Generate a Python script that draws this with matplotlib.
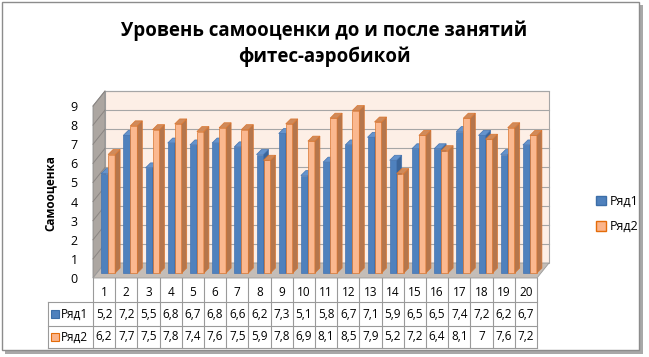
import matplotlib.pyplot as plt
from matplotlib.patches import Polygon, Rectangle, Patch

plt.rcParams['font.family'] = ['Open Sans', 'DejaVu Sans']

groups = list(range(1, 21))
series_names = ['Ряд1', 'Ряд2']
row1 = [5.2, 7.2, 5.5, 6.8, 6.7, 6.8, 6.6, 6.2, 7.3, 5.1, 5.8, 6.7, 7.1, 5.9, 6.5, 6.5, 7.4, 7.2, 6.2, 6.7]
row2 = [6.2, 7.7, 7.5, 7.8, 7.4, 7.6, 7.5, 5.9, 7.8, 6.9, 8.1, 8.5, 7.9, 5.2, 7.2, 6.4, 8.1, 7.0, 7.6, 7.2]
y_ticks = list(range(10))
title = 'Уровень самооценки до и после занятий\nфитес-аэробикой'
ylabel = 'Самооценка'

W, H = 649, 357
fig = plt.figure(figsize=(W / 100, H / 100), dpi=100)


def fx(px):
    return px / W


def fy(py):
    return 1 - py / H


# chart frame with a shadow
fig.patches.append(Rectangle((fx(5), fy(354)), fx(643) - fx(5), fy(5) - fy(354),
                             transform=fig.transFigure, fc='#a8a8a8', ec='none', zorder=0))
fig.patches.append(Rectangle((fx(2), fy(350)), fx(639) - fx(2), fy(2) - fy(350),
                             transform=fig.transFigure, fc='white', ec='#8c8c8c', lw=1.0, zorder=1))

ax = fig.add_axes([fx(93), fy(278), fx(537) - fx(93), fy(106) - fy(278)])
ax.set_zorder(5)
ax.set_xlim(0.5, 20.5)
ax.set_ylim(0, 9)
ax.patch.set_visible(False)
for s in ax.spines.values():
    s.set_visible(False)
ax.set_xticks([])
ax.set_yticks(y_ticks)
ax.tick_params(axis='y', length=0, pad=11, labelsize=9)

# pixel sizes in data units
ux = 20 / 444
uy = 9 / 172
wdx, wdy = 12 * ux, 15 * uy      # wall depth
bdx, bdy = 4 * ux, 5 * uy        # bar plane offset
bw = 7 * ux                      # bar width
ddx, ddy = 5 * ux, 5 * uy        # bar depth

# back wall, left wall, floor
ax.add_patch(Rectangle((0.5 + wdx, wdy), 20, 9, fc='#fdefe6', ec='#a6a6a6', lw=0.8,
                       clip_on=False, zorder=0))
ax.add_patch(Polygon([(0.5, 0), (0.5, 9), (0.5 + wdx, 9 + wdy), (0.5 + wdx, wdy)],
                     fc='#aca6a1', ec='#8c8c8c', lw=0.6, clip_on=False, zorder=1))
ax.add_patch(Polygon([(0.5, 0), (20.5, 0), (20.5 + wdx, wdy), (0.5 + wdx, wdy)],
                     fc='#c4bdb7', ec='#9a9a9a', lw=0.6, clip_on=False, zorder=1))
for k in y_ticks[1:]:
    ax.plot([0.5 + wdx, 20.5 + wdx], [k + wdy, k + wdy], color='#a6a6a6', lw=0.8,
            clip_on=False, zorder=0.5)
    ax.plot([0.5, 0.5 + wdx], [k, k + wdy], color='#8a8582', lw=0.7, clip_on=False, zorder=1.5)


def draw_bar(x0, h, front, side, top, ec, z):
    ax.bar([x0], [h], width=bw, bottom=bdy, align='edge', color=front, edgecolor=ec,
           lw=0.5, zorder=z, clip_on=False)
    ax.add_patch(Polygon([(x0 + bw, bdy), (x0 + bw + ddx, bdy + ddy),
                          (x0 + bw + ddx, bdy + h + ddy), (x0 + bw, bdy + h)],
                         fc=side, ec=ec, lw=0.5, zorder=z, clip_on=False))
    ax.add_patch(Polygon([(x0, bdy + h), (x0 + ddx, bdy + h + ddy),
                          (x0 + bw + ddx, bdy + h + ddy), (x0 + bw, bdy + h)],
                         fc=top, ec=ec, lw=0.5, zorder=z, clip_on=False))


for g, a, b in zip(groups, row1, row2):
    c = g + bdx
    draw_bar(c - bw, a, '#4f81bd', '#3a659a', '#6593cc', '#4574b0', 3)
    draw_bar(c, b, '#fbb88f', '#b5764c', '#d08a5a', '#d9752f', 4)

# data table under the chart
tc = '#9a9a9a'
r0, r1, r2, r3 = 0, -24 * uy, -48 * uy, -70 * uy
xl = 0.5 - 45 * ux
for k in range(21):
    ax.plot([k + 0.5, k + 0.5], [r0, r3], color=tc, lw=0.8, clip_on=False, zorder=2)
ax.plot([xl, xl], [r1, r3], color=tc, lw=0.8, clip_on=False, zorder=2)
for r in (r1, r2, r3):
    ax.plot([xl, 20.5], [r, r], color=tc, lw=0.8, clip_on=False, zorder=2)

fmt = lambda v: f'{v:g}'.replace('.', ',')
for g, a, b in zip(groups, row1, row2):
    ax.text(g, (r0 + r1) / 2 - 2 * uy, str(g), ha='center', va='center', fontsize=8.5,
            clip_on=False)
    ax.text(g, (r1 + r2) / 2, fmt(a), ha='center', va='center', fontsize=8.5, clip_on=False)
    ax.text(g, (r2 + r3) / 2, fmt(b), ha='center', va='center', fontsize=8.5, clip_on=False)

for (ya, yb), name, fc, ec in [((r1, r2), series_names[0], '#4f81bd', '#3c6ea8'),
                               ((r2, r3), series_names[1], '#fbb48a', '#e46c0a')]:
    ym = (ya + yb) / 2
    ax.add_patch(Rectangle((xl + 3 * ux, ym - 4 * uy), 8 * ux, 8 * uy, fc=fc, ec=ec, lw=0.8,
                           clip_on=False, zorder=3))
    ax.text(xl + 13 * ux, ym, name, ha='left', va='center', fontsize=8.5, clip_on=False)

# legend
handles = [Patch(fc='#4f81bd', ec='#3c6ea8'), Patch(fc='#fbb48a', ec='#e46c0a')]
leg = fig.legend(handles, series_names, loc='center left', bbox_to_anchor=(fx(585), fy(214)),
                 frameon=False, handlelength=0.8, handleheight=0.8, handletextpad=0.3,
                 labelspacing=1.0, fontsize=9)
leg.set_zorder(6)

fig.text(fx(50), fy(193), ylabel, rotation=90, ha='center', va='center',
         fontsize=8.5, fontweight='bold', zorder=6)
fig.text(fx(324), fy(44), title, ha='center', va='center', fontsize=13.5,
         fontweight='bold', linespacing=1.35, zorder=6)

fig.savefig('out.png', dpi=100)
